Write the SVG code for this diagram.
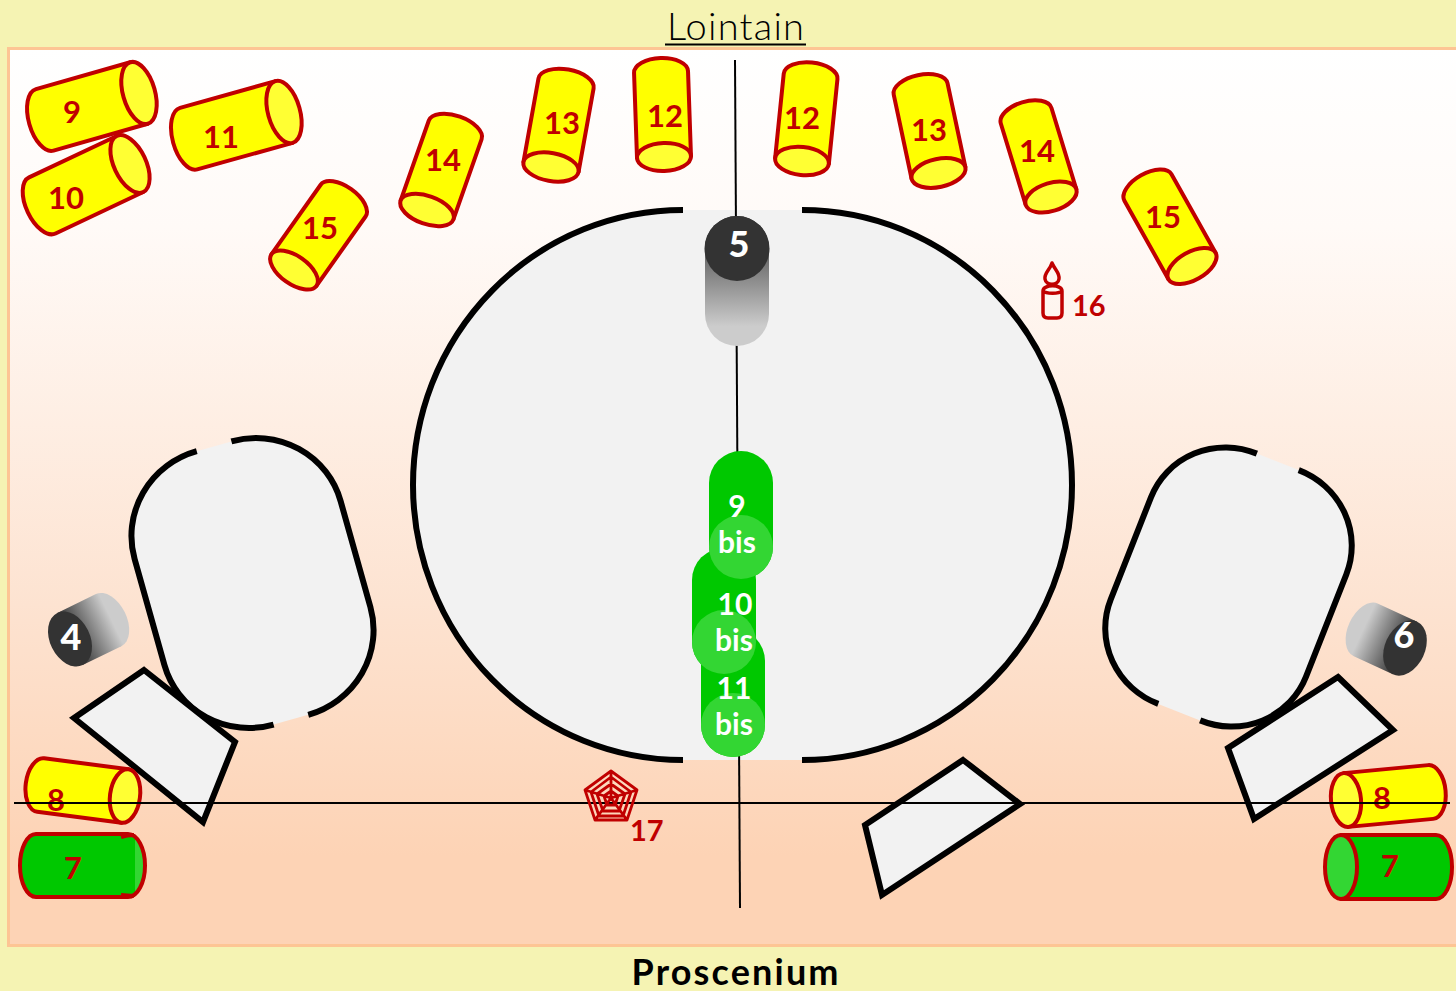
<svg xmlns="http://www.w3.org/2000/svg" width="1456" height="991" viewBox="0 0 1456 991">
<style>
.t{font-family:"Lato","Open Sans","Liberation Sans",sans-serif;text-anchor:middle}
.n{font-size:31px;font-weight:700;fill:#c00000}
.w{font-size:30px;font-weight:700;fill:#fff}
.d{font-size:36px;font-weight:900;fill:#fff}
.l{font-size:29px;font-weight:700;fill:#c00000;font-family:"Lato","Open Sans","Liberation Sans",sans-serif}
.c{stroke:#c00000;stroke-width:4;stroke-linejoin:round}
.y{fill:#ffff00}.yc{fill:#ffff33}.g{fill:#00c800}.gc{fill:#33d633}
.edge{fill:none;stroke:#000;stroke-width:6}
.area{fill:#f2f2f2;stroke:none}
.poly{fill:#f2f2f2;stroke:#000;stroke-width:6;stroke-linejoin:miter}
.ln{stroke:#000;stroke-width:2;fill:none}
.ic{fill:none;stroke:#c00000;stroke-width:3.500;stroke-linejoin:round}
.ic2{fill:none;stroke:#c00000;stroke-width:2.800;stroke-linejoin:round}
</style>
<defs>
<linearGradient id="panel" x1="0" y1="0" x2="0" y2="1"><stop offset="0" stop-color="#ffffff"/><stop offset="0.2" stop-color="#fffaf7"/><stop offset="0.62" stop-color="#fde3d1"/><stop offset="0.9" stop-color="#fdd3b5"/><stop offset="1" stop-color="#fdd3b5"/></linearGradient>
<linearGradient id="dark5" x1="0" y1="0" x2="0" y2="1"><stop offset="0" stop-color="#333"/><stop offset="0.85" stop-color="#ccc"/></linearGradient>
<linearGradient id="darkS" x1="1" y1="0" x2="0" y2="0"><stop offset="0" stop-color="#333"/><stop offset="0.75" stop-color="#ccc"/></linearGradient>
</defs>
<rect width="1456" height="991" fill="#f5f3b3"/>
<rect x="8.500" y="48.500" width="1450" height="897" fill="url(#panel)" stroke="#fdc594" stroke-width="3"/>
<text id="lointain" class="t" x="735.500" y="40" font-size="38" font-weight="300" fill="#000" textLength="137" lengthAdjust="spacing">Lointain</text>
<line x1="665" y1="44.500" x2="806" y2="44.500" stroke="#000" stroke-width="2"/>
<text id="proscenium" class="t" x="735" y="985" font-size="36" font-weight="700" fill="#000" textLength="207" lengthAdjust="spacing">Proscenium</text>

<g id="stage">
<path class="area" d="M683,210 A270,275 0 0 0 683,760 L802,760 A270,275 0 0 0 802,210 Z"/>
<path class="edge" d="M683,210 A270,275 0 0 0 683,760 M802,760 A270,275 0 0 0 802,210"/>
</g>
<g id="side-left" transform="translate(252.500,583) rotate(-15.700)">
<path class="area" d="M-18,-142 L18,-142 A89,87 0 0 1 107,-55 L107,55 A89,87 0 0 1 18,142 L-18,142 A89,87 0 0 1 -107,55 L-107,-55 A89,87 0 0 1 -18,-142 Z"/>
<path class="edge" d="M18,-142 A89,87 0 0 1 107,-55 L107,55 A89,87 0 0 1 18,142 M-18,142 A89,87 0 0 1 -107,55 L-107,-55 A89,87 0 0 1 -18,-142"/>
</g>
<g id="side-right" transform="translate(1228.500,587) rotate(21.500)">
<path class="area" d="M-22.500,-134.500 L22.500,-134.500 A81.500,79.500 0 0 1 105,-55 L105,55 A81.500,79.500 0 0 1 22.500,134.500 L-22.500,134.500 A81.500,79.500 0 0 1 -105,55 L-105,-55 A81.500,79.500 0 0 1 -22.500,-134.500 Z"/>
<path class="edge" d="M22.500,-134.500 A81.500,79.500 0 0 1 105,-55 L105,55 A81.500,79.500 0 0 1 22.500,134.500 M-22.500,134.500 A81.500,79.500 0 0 1 -105,55 L-105,-55 A81.500,79.500 0 0 1 -22.500,-134.500"/>
</g>
<g id="poly-left"><polygon class="poly" points="144,670 235,742 203,822 74,718"/></g>
<g id="poly-right"><polygon class="poly" points="1338,677 1393,730 1254,819 1228,748"/></g>
<g id="poly-middle"><polygon class="poly" points="963,760 1020,804 882,895 865,825"/></g>

<g id="cyl-8-left">
<g transform="translate(125,796) rotate(7.400)"><path class="c y" d="M0,-27 L-85,-27 A15,27 0 0 0 -85,27 L0,27 Z"/><ellipse class="c yc" rx="15" ry="27"/></g>
<text class="t n" x="56" y="811">8</text>
</g>
<g id="cyl-8-right">
<g transform="translate(1346,800) rotate(174.600)"><path class="c y" d="M0,-27 L-85,-27 A15,27 0 0 0 -85,27 L0,27 Z"/><ellipse class="c yc" rx="15" ry="27"/></g>
<text class="t n" x="1382" y="809">8</text>
</g>

<g id="connectors">
<line class="ln" x1="735" y1="60" x2="740" y2="908"/>
<line class="ln" x1="14" y1="803" x2="1450" y2="803"/>
</g>

<g id="light-5">
<rect x="705" y="216" width="64" height="130" rx="32" fill="url(#dark5)"/>
<circle cx="737" cy="248.500" r="32.500" fill="#333"/>
<text class="t d" x="739" y="257">5</text>
</g>
<g id="light-4">
<g transform="translate(70,639) rotate(154)"><path d="M0,-29 L-43,-29 A18,29 0 0 0 -43,29 L0,29 Z" fill="url(#darkS)"/><ellipse rx="20" ry="29" fill="#333"/></g>
<text class="t d" x="71" y="650">4</text>
</g>
<g id="light-6">
<g transform="translate(1405,648) rotate(24.800)"><path d="M0,-29 L-43,-29 A18,29 0 0 0 -43,29 L0,29 Z" fill="url(#darkS)"/><ellipse rx="20" ry="29" fill="#333"/></g>
<text class="t d" x="1404" y="648">6</text>
</g>

<g id="bis-11">
<rect x="701" y="629" width="64" height="128" rx="32" class="g"/>
<circle cx="733" cy="725" r="32" class="gc"/>
<text class="t w" x="734" y="699">11</text><text class="t w" x="734" y="735">bis</text>
</g>
<g id="bis-10">
<rect x="692" y="548" width="64" height="126" rx="32" class="g"/>
<circle cx="724" cy="642" r="32" class="gc"/>
<text class="t w" x="735" y="615">10</text><text class="t w" x="734" y="651">bis</text>
</g>
<g id="bis-9">
<rect x="709" y="451" width="64" height="128" rx="32" class="g"/>
<circle cx="741" cy="547" r="32" class="gc"/>
<text class="t w" x="737" y="517">9</text><text class="t w" x="737" y="553">bis</text>
</g>

<g id="cyl-9">
<g transform="translate(139,93) rotate(-15.900)"><path class="c y" d="M0,-32 L-98,-32 A16,32 0 0 0 -98,32 L0,32 Z"/><ellipse class="c yc" rx="16" ry="32"/></g>
<text class="t n" x="72" y="123">9</text>
</g>
<g id="cyl-10">
<g transform="translate(130,164) rotate(-25.300)"><path class="c y" d="M0,-31 L-97,-31 A16,31 0 0 0 -97,31 L0,31 Z"/><ellipse class="c yc" rx="16" ry="31"/></g>
<text class="t n" x="66" y="209">10</text>
</g>
<g id="cyl-11">
<g transform="translate(284,112) rotate(-15.600)"><path class="c y" d="M0,-32 L-99,-32 A16,32 0 0 0 -99,32 L0,32 Z"/><ellipse class="c yc" rx="16" ry="32"/></g>
<text class="t n" x="221" y="148">11</text>
</g>
<g id="cyl-15-left">
<g transform="translate(294,270) rotate(125.300)"><path class="c y" d="M0,-27.500 L-85,-27.500 A14,27.500 0 0 0 -85,27.500 L0,27.500 Z"/><ellipse class="c yc" rx="14" ry="27.500"/></g>
<text class="t n" x="320" y="239">15</text>
</g>
<g id="cyl-14-left">
<g transform="translate(427,210) rotate(109.400)"><path class="c y" d="M0,-28 L-85,-28 A14,28 0 0 0 -85,28 L0,28 Z"/><ellipse class="c yc" rx="14" ry="28"/></g>
<text class="t n" x="443" y="171">14</text>
</g>
<g id="cyl-13-left">
<g transform="translate(551,167) rotate(100.200)"><path class="c y" d="M0,-28 L-85,-28 A14,28 0 0 0 -85,28 L0,28 Z"/><ellipse class="c yc" rx="14" ry="28"/></g>
<text class="t n" x="562" y="134">13</text>
</g>
<g id="cyl-12-left">
<g transform="translate(664,157) rotate(88)"><path class="c y" d="M0,-27 L-85,-27 A14,27 0 0 0 -85,27 L0,27 Z"/><ellipse class="c yc" rx="14" ry="27"/></g>
<text class="t n" x="665" y="127">12</text>
</g>
<g id="cyl-12-right">
<g transform="translate(802,161) rotate(95.800)"><path class="c y" d="M0,-27 L-85,-27 A14,27 0 0 0 -85,27 L0,27 Z"/><ellipse class="c yc" rx="14" ry="27"/></g>
<text class="t n" x="802" y="129">12</text>
</g>
<g id="cyl-13-right">
<g transform="translate(938.500,173) rotate(78)"><path class="c y" d="M0,-27.500 L-86,-27.500 A14,27.500 0 0 0 -86,27.500 L0,27.500 Z"/><ellipse class="c yc" rx="14" ry="27.500"/></g>
<text class="t n" x="929" y="141">13</text>
</g>
<g id="cyl-14-right">
<g transform="translate(1051,197) rotate(73)"><path class="c y" d="M0,-26.500 L-85,-26.500 A14,26.500 0 0 0 -85,26.500 L0,26.500 Z"/><ellipse class="c yc" rx="14" ry="26.500"/></g>
<text class="t n" x="1037" y="162">14</text>
</g>
<g id="cyl-15-right">
<g transform="translate(1192,266) rotate(60.700)"><path class="c y" d="M0,-27 L-90,-27 A14,27 0 0 0 -90,27 L0,27 Z"/><ellipse class="c yc" rx="14" ry="27"/></g>
<text class="t n" x="1163" y="228">15</text>
</g>
<g id="cyl-7-left">
<path class="gc" d="M36,834 L128,834 A17,31.500 0 0 1 128,897 L36,897 A16,31.500 0 0 1 36,834 Z"/>
<path class="g" d="M36,834 L135,834 L135,897 L36,897 A16,31.500 0 0 1 36,834 Z"/>
<path class="c" fill="none" d="M36,834 L128,834 A17,31.500 0 0 1 128,897 L36,897 A16,31.500 0 0 1 36,834 Z M121,837 Q127,835 134,835 M121,895 L134,896"/>
<text class="t n" x="73" y="879">7</text>
</g>
<g id="cyl-7-right">
<g transform="translate(1341,867) rotate(180)"><path class="c g" d="M0,-32 L-95,-32 A16,32 0 0 0 -95,32 L0,32 Z"/><ellipse class="c gc" rx="16" ry="32"/></g>
<text class="t n" x="1390" y="877">7</text>
</g>

<g id="icon-16">
<path class="ic" d="M1052,263 C1055,270 1060,273 1059,279 C1058,286 1046,286 1045,279 C1044,273 1050,270 1052,263 Z"/>
<path class="ic" d="M1043,291 C1043,284 1062,284 1062,291 L1062,313 Q1062,318 1057,318 L1048,318 Q1043,318 1043,313 Z M1043,291 C1046,294 1059,294 1062,291"/>
<text class="l" x="1072" y="316">16</text>
</g>
<g id="icon-17">
<path class="ic2" d="M611,771 L637,790 L627,820 L595,820 L585,790 Z M611,777 L631,792 L623,816 L599,816 L591,792 Z M611,784 L625,794 L619,811 L603,811 L597,794 Z M611,791 L618,796 L615,805 L607,805 L604,796 Z M611,771 L611,798 M637,790 L611,798 M627,820 L611,798 M595,820 L611,798 M585,790 L611,798"/>
<text class="l" x="630" y="841">17</text>
</g>
</svg>
